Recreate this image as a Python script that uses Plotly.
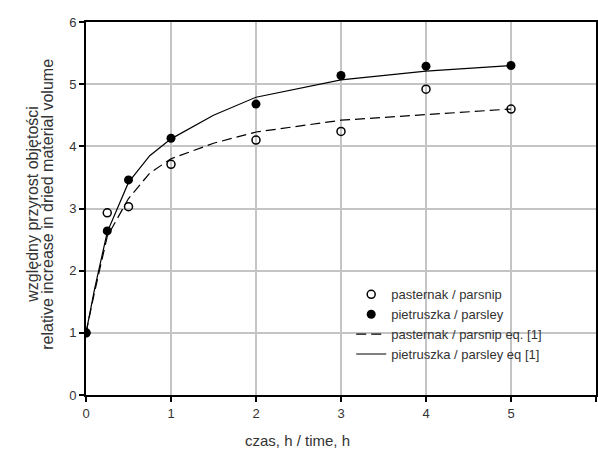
import plotly.graph_objects as go

# measured data
t_meas = [0, 0.25, 0.5, 1, 2, 3, 4, 5]
parsnip = [1.0, 2.93, 3.03, 3.71, 4.1, 4.24, 4.92, 4.6]
parsley = [1.0, 2.64, 3.46, 4.13, 4.68, 5.14, 5.29, 5.3]

# model curves eq. [1]
t_model = [0, 0.1, 0.25, 0.5, 0.75, 1, 1.5, 2, 3, 4, 5]
parsnip_eq = [1.0, 1.65, 2.55, 3.16, 3.57, 3.80, 4.05, 4.23, 4.42, 4.51, 4.60]
parsley_eq = [1.0, 1.70, 2.62, 3.42, 3.85, 4.12, 4.50, 4.79, 5.07, 5.21, 5.30]

x_ticks = [0, 1, 2, 3, 4, 5, 6]
y_ticks = [0, 1, 2, 3, 4, 5, 6]

font = "Liberation Sans, Arial, sans-serif"

fig = go.Figure()
fig.add_trace(go.Scatter(x=t_meas, y=parsnip, mode="markers", name="pasternak / parsnip",
                         marker=dict(symbol="circle-open", size=8, color="black", line=dict(width=1.5, color="black"))))
fig.add_trace(go.Scatter(x=t_meas, y=parsley, mode="markers", name="pietruszka / parsley",
                         marker=dict(symbol="circle", size=9, color="black")))
fig.add_trace(go.Scatter(x=t_model, y=parsnip_eq, mode="lines", name="pasternak / parsnip eq. [1]",
                         line=dict(color="black", width=1.2, dash="10px,5px")))
fig.add_trace(go.Scatter(x=t_model, y=parsley_eq, mode="lines", name="pietruszka / parsley eq [1]",
                         line=dict(color="black", width=1.2)))

axis_common = dict(showgrid=True, gridcolor="#c4c4c4", gridwidth=1.5, zeroline=False,
                   showline=True, linecolor="black", linewidth=2, ticks="outside",
                   ticklen=5, tickwidth=1.5, tickcolor="black", automargin=False,
                   tickfont=dict(family=font, size=13, color="#333333"))

fig.update_layout(
    width=598, height=456,
    margin=dict(l=86, r=2, t=22, b=61),
    paper_bgcolor="white", plot_bgcolor="white",
    font=dict(family=font, size=13, color="#333333"),
    xaxis=dict(range=[0, 6], tickvals=x_ticks, mirror=True, **axis_common),
    yaxis=dict(range=[0, 6], tickvals=y_ticks, mirror=True, **axis_common),
    showlegend=True,
    legend=dict(x=0.52, y=0.31, xanchor="left", yanchor="top", bgcolor="rgba(0,0,0,0)",
                font=dict(family=font, size=13, color="#333333"), tracegroupgap=0,
                itemwidth=30),
)

fig.add_annotation(text="czas, h / time, h", xref="paper", yref="paper", x=(297 - 86) / 510,
                   y=-(440 - 395) / 373, xanchor="center", yanchor="middle", showarrow=False,
                   font=dict(family=font, size=15, color="#333333"))
fig.add_annotation(text="względny przyrost objętości",
                   xref="paper", yref="paper", x=(33 - 86) / 510, y=0.51, textangle=-90,
                   xanchor="center", yanchor="middle", showarrow=False,
                   font=dict(family=font, size=16, color="#333333"))
fig.add_annotation(text="relative increase in dried material volume",
                   xref="paper", yref="paper", x=(48 - 86) / 510, y=0.51, textangle=-90,
                   xanchor="center", yanchor="middle", showarrow=False,
                   font=dict(family=font, size=16, color="#333333"))

fig.write_html("out.html", config={"displayModeBar": False},
               post_script="document.body.style.margin='0';document.body.style.overflow='hidden';")
